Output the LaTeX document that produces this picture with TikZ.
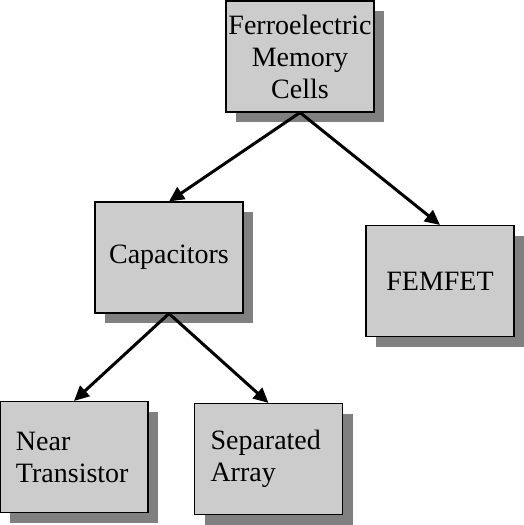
\documentclass[tikz,border=0pt]{standalone}
\usepackage{fontspec}
\setmainfont{Liberation Serif}
\usetikzlibrary{shadows,arrows.meta}
\tikzset{
  box/.style={draw=black, line width=1.1pt, fill=boxgray, minimum width=148pt, minimum height=111pt,
    inner sep=0pt, font=\fontsize{28}{32}\selectfont,
    drop shadow={shadow xshift=10pt, shadow yshift=-10pt, fill=shadowgray, opacity=1}},
  lbox/.style={box, align=left, text width=116pt, inner xsep=16pt},
  cbox/.style={box, align=center},
  arr/.style={line width=3pt, -{Triangle[length=15pt,width=14pt]}}
}
\definecolor{boxgray}{HTML}{CCCCCC}
\definecolor{shadowgray}{HTML}{808080}
\begin{document}
\begin{tikzpicture}[x=1pt,y=-1pt]
\useasboundingbox (0,0) rectangle (524,525);
\node[cbox] (top) at (300,56.5) {Ferroelectric\\Memory\\Cells};
\node[cbox] (cap) at (169,257.5) {Capacitors};
\node[cbox] (fem) at (440,281) {FEMFET};
\node[lbox] (near) at (74,457) {Near\\Transistor};
\node[lbox] (sep) at (268.5,459) {Separated\\Array};
\draw[arr] (top.south) -- (cap.north);
\draw[arr] (top.south) -- (fem.north);
\draw[arr] (cap.south) -- (near.north);
\draw[arr] (cap.south) -- (sep.north);
\end{tikzpicture}
\end{document}
